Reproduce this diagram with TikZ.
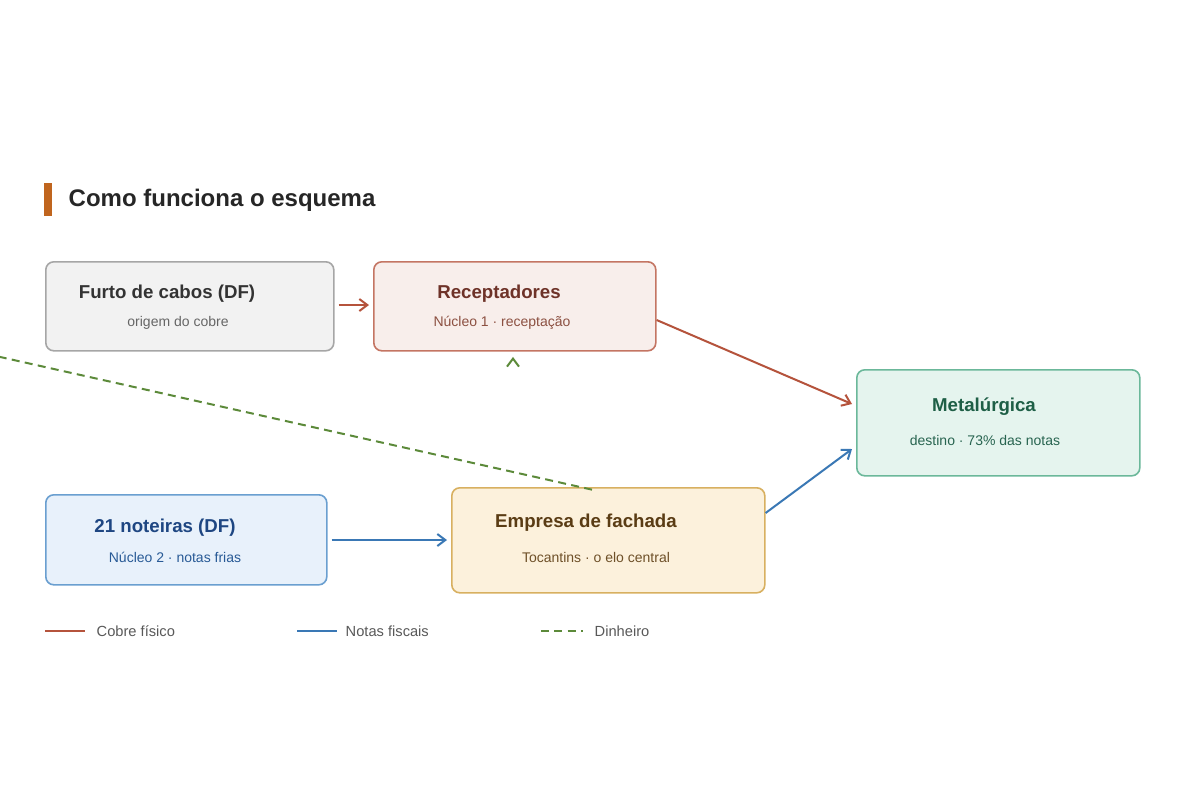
\documentclass[tikz,border=0pt]{standalone}
\usepackage{fontspec}
\setmainfont{Liberation Sans}
\usetikzlibrary{arrows.meta}
\definecolor{cred}{HTML}{B5533C}
\definecolor{cblue}{HTML}{3A78B5}
\definecolor{cgreen}{HTML}{5C8A3A}
\definecolor{corange}{HTML}{C0651E}
\tikzset{
 box/.style={draw, rounded corners=6pt, line width=1.2pt, inner sep=0pt, anchor=north west},
 ttl/.style={font=\bfseries\fontsize{14}{16}\selectfont, text=black!80},
 sub/.style={font=\fontsize{10.5}{12}\selectfont},
 arr/.style={line width=1.5pt, -{Straight Barb[length=6pt,width=9pt]}},
 leg/.style={font=\fontsize{11}{13}\selectfont, text=black!65, anchor=west}
}
\begin{document}
\begin{tikzpicture}[x=0.75pt,y=-0.75pt]
\useasboundingbox[fill=white] (0,0) rectangle (1200,800);
\fill[corange] (44,183) rectangle (52,216);
\node[anchor=west, font=\bfseries\fontsize{18}{20}\selectfont, text=black!85] (title) at (64,200) {Como funciona o esquema};
% boxes
\node[box, draw=black!35, fill=black!5, minimum width=288*0.75pt, minimum height=89*0.75pt] (furto) at (45,261) {};
\node[box, draw=cred!80, fill=cred!10, minimum width=282*0.75pt, minimum height=89*0.75pt] (rec) at (373,261) {};
\node[box, draw={rgb,255:red,107;green,184;blue,154}, fill={rgb,255:red,229;green,244;blue,238}, minimum width=283*0.75pt, minimum height=106*0.75pt] (met) at (856,369) {};
\node[box, draw={rgb,255:red,106;green,159;blue,208}, fill={rgb,255:red,232;green,241;blue,251}, minimum width=281*0.75pt, minimum height=90*0.75pt] (not) at (45,494) {};
\node[box, draw={rgb,255:red,216;green,176;blue,96}, fill={rgb,255:red,252;green,241;blue,220}, minimum width=313*0.75pt, minimum height=105*0.75pt] (emp) at (451,487) {};
% texts
\node[ttl] (t1) at (167,294) {Furto de cabos (DF)};
\node[sub, text=black!60] (s1) at (178,323) {origem do cobre};
\node[ttl, text={rgb,255:red,110;green,50;blue,40}] (t2) at (499,294) {Receptadores};
\node[sub, text={rgb,255:red,140;green,80;blue,65}] (s2) at (502,323) {Núcleo 1 · receptação};
\node[ttl, text={rgb,255:red,30;green,95;blue,70}] (t3) at (984,407) {Metalúrgica};
\node[sub, text={rgb,255:red,40;green,100;blue,80}] (s3) at (985,440) {destino · 73\% das notas};
\node[ttl, text={rgb,255:red,30;green,70;blue,130}] (t4) at (165,528) {21 noteiras (DF)};
\node[sub, text={rgb,255:red,40;green,90;blue,150}] (s4) at (175,557) {Núcleo 2 · notas frias};
\node[ttl, text={rgb,255:red,90;green,60;blue,20}] (t5) at (586,523) {Empresa de fachada};
\node[sub, text={rgb,255:red,110;green,80;blue,40}] (s5) at (596,557) {Tocantins · o elo central};
% arrows
\draw[arr, cred] ([xshift=3pt]furto.east|-0,305) -- ([xshift=-3pt]rec.west|-0,305);
\draw[arr, cred] (rec.east|-0,320) -- ([xshift=-3pt]met.west|-0,404);
\draw[arr, cblue] ([xshift=3pt]not.east|-0,540) -- ([xshift=-3pt]emp.west|-0,540);
\draw[arr, cblue] (emp.east|-0,513) -- ([xshift=-3pt]met.west|-0,449);
\draw[arr, cgreen, dash pattern=on 6pt off 4pt] ([yshift=-2pt]emp.north-|0,0) ++(592,0) -- ([yshift=-4pt]rec.south-|0,0) ++(513,0);
% legend
\draw[line width=2pt, cred] (45,631) coordinate (l1) -- (85,631) coordinate (l1b);
\node[leg] (lt1) at (92,631) {Cobre físico};
\draw[line width=2pt, cblue] (297,631) coordinate (l2) -- (337,631) coordinate (l2b);
\node[leg] (lt2) at (341,631) {Notas fiscais};
\draw[line width=2pt, cgreen, dash pattern=on 6pt off 4pt] (541,631) coordinate (l3) -- (583,631) coordinate (l3b);
\node[leg] (lt3) at (590,631) {Dinheiro};
\end{tikzpicture}
\end{document}
